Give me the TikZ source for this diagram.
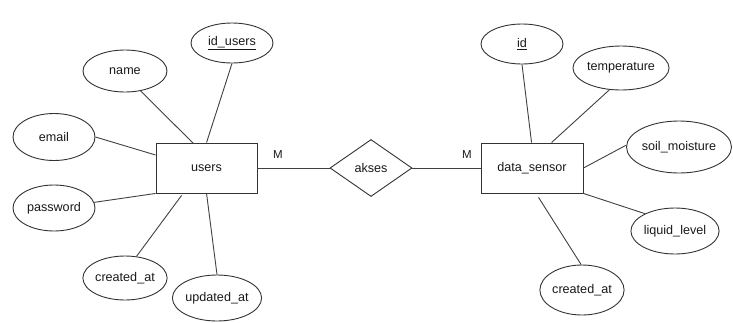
\documentclass[tikz,border=0pt]{standalone}
\usepackage{fontspec}
\setmainfont{Liberation Sans}
\usetikzlibrary{shapes.geometric,calc}
\begin{document}
\begin{tikzpicture}[x=1pt,y=-1pt,
  every node/.style={font=\fontsize{12.6}{15}\selectfont, text=black!90},
  attr/.style={draw=black!80, line width=0.9pt, ellipse, inner sep=0pt, minimum width=#1},
  ent/.style={draw=black!80, line width=0.9pt, rectangle, minimum width=101pt, minimum height=50pt, inner sep=0pt},
  rel/.style={draw=black!80, line width=0.9pt, diamond, aspect=1.45, minimum width=82pt, minimum height=57pt, inner sep=0pt},
  conn/.style={draw=black!75, line width=0.9pt},
  card/.style={font=\fontsize{11.5}{13}\selectfont}]
\useasboundingbox (0,0) rectangle (733,322);
% entities and relationship
\node[ent] (users) at (206.5,168) {users};
\node[ent, minimum width=102pt] (data) at (532,168) {data\_sensor};
\node[rel] (akses) at (371,168) {akses};
% users attributes
\node[attr=82pt, minimum height=40pt] (idu) at (232,43) {\underline{id\_users}};
\node[attr=84pt, minimum height=42pt] (name) at (125,71) {name};
\node[attr=82pt, minimum height=47pt] (email) at (54,137) {email};
\node[attr=82pt, minimum height=46pt] (pass) at (54,208) {password};
\node[attr=84pt, minimum height=44pt] (cat) at (125,278) {created\_at};
\node[attr=84pt, minimum height=46pt] (uat) at (217,298) {updated\_at};
% data_sensor attributes
\node[attr=82pt, minimum height=40pt] (id) at (522,44) {\underline{id}};
\node[attr=80pt, minimum height=44pt] (temp) at (621,68) {temperature};
\node[attr=92pt, minimum height=52pt] (soil) at (679,147) {soil\_moisture};
\node[attr=84pt, minimum height=46pt] (liq) at (675,231) {liquid\_level};
\node[attr=82pt, minimum height=50pt] (cat2) at (582,290) {created\_at};
% cardinalities
\node[card] (m1) at (278,155) {M};
\node[card] (m2) at (467,155) {M};
% connectors users
\draw[conn] (name.-52) -- ($(users.north west)+(38,1)$);
\draw[conn] (idu.-90) -- ($(users.north west)+(51,0)$);
\draw[conn] (email.0) -- ($(users.west)+(0,-13)$);
\draw[conn] (pass.8) -- (users.south west);
\draw[conn] (cat.62) -- ($(users.south west)+(26,2)$);
\draw[conn] (uat.90) -- ($(users.south west)+(51,0)$);
\draw[conn] (users.east) -- (akses.west);
\draw[conn] (akses.east) -- (data.west);
% connectors data_sensor
\draw[conn] (id.-90) -- ($(data.north west)+(51,0)$);
\draw[conn] (temp.-118) -- ($(data.north west)+(71,0)$);
\draw[conn] (soil.178) -- ($(data.east)+(0,0)$);
\draw[conn] (liq.150) -- (data.south east);
\draw[conn] (cat2.92) -- ($(data.south west)+(58,4)$);
\end{tikzpicture}
\end{document}
